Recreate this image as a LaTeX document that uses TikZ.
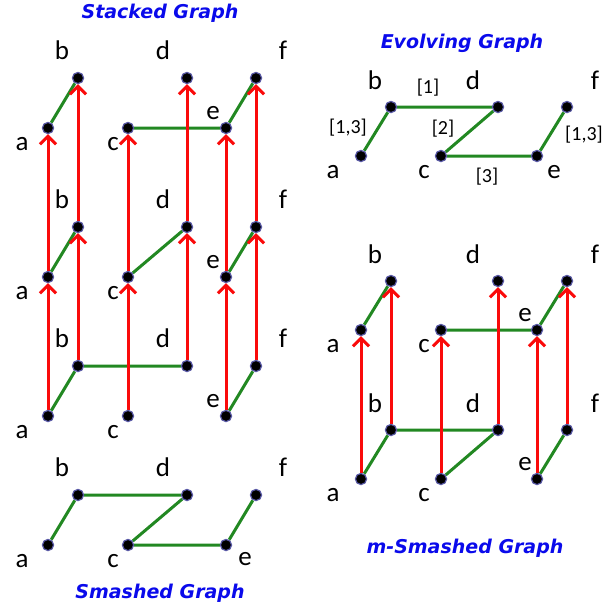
\documentclass[tikz,border=0pt]{standalone}
\usepackage{fontspec}
\newfontfamily\lblfont{Carlito}
\newfontfamily\ttlfont{DejaVu Sans}
\usetikzlibrary{arrows.meta,backgrounds}
\definecolor{edgegreen}{RGB}{34,136,34}
\definecolor{arrowred}{RGB}{250,10,10}
\definecolor{titleblue}{RGB}{10,10,235}

\begin{document}
\begin{tikzpicture}[
    x=0.5pt, y=-0.5pt,
    dot/.style={circle,fill=black,draw=blue!30!gray,line width=0.6pt,inner sep=0pt,minimum size=5.6pt},
    lbl/.style={font=\lblfont\fontsize{13.5}{14}\selectfont,inner sep=0pt},
    tlbl/.style={font=\lblfont\fontsize{10}{10}\selectfont,inner sep=0pt},
    title/.style={font=\ttlfont\bfseries\itshape\fontsize{9.5}{10}\selectfont,text=titleblue,inner sep=0pt},
    gedge/.style={draw=edgegreen,line width=1.5pt},
    tarrow/.style={draw=arrowred,line width=1.5pt,-{Straight Barb[length=4pt,width=8pt]}}
]
\useasboundingbox (0,0) rectangle (616,611);

% Titles
\node[title] (tstack) at (160,13) {Stacked Graph};
\node[title] (tsmash) at (160,593) {Smashed Graph};
\node[title] (tevol) at (462,43) {Evolving Graph};
\node[title] (tmsmash) at (465,548) {m-Smashed Graph};

% Stacked graph layers
\foreach \L/\Y in {3/78,2/227,1/366} {
  \foreach \n/\x/\dy/\lx/\ly in {a/48/50/-26/16, b/78/0/-16/-28, c/128/50/-15/16,
                                 d/187/0/-24/-28, e/226/50/-13/-15, f/256/0/27/-28} {
    \node[dot] (\n\L) at (\x,\Y+\dy) {};
    \node[lbl] (l\n\L) at (\x+\lx,\Y+\dy+\ly) {\n};
  }
}

% Smashed graph
\foreach \n/\x/\dy/\lx/\ly in {a/48/50/-26/16, b/78/0/-16/-28, c/128/50/-15/16,
                               d/187/0/-24/-28, e/226/50/19/14, f/256/0/27/-28} {
  \node[dot] (\n s) at (\x,495+\dy) {};
  \node[lbl] (l\n s) at (\x+\lx,495+\dy+\ly) {\n};
}

% Evolving graph
\foreach \n/\x/\dy/\lx/\ly in {a/361/49/-28/16, b/391/0/-16/-27, c/441/49/-17/16,
                               d/498/0/-25/-27, e/537/49/17/16, f/567/0/28/-27} {
  \node[dot] (v\n) at (\x,107+\dy) {};
  \node[lbl] (lv\n) at (\x+\lx,107+\dy+\ly) {\n};
}
\node[tlbl] (tab) at (348,128) {[1,3]};
\node[tlbl] (tbd) at (428,88) {[1]};
\node[tlbl] (tcd) at (443,129) {[2]};
\node[tlbl] (tce) at (487,177) {[3]};
\node[tlbl] (tef) at (584,135) {[1,3]};

% m-Smashed graph
\foreach \L/\Y in {2/281,1/430} {
  \foreach \n/\x/\dy/\lx/\ly in {a/361/49/-28/16, b/391/0/-16/-27, c/441/49/-17/16,
                                 d/498/0/-25/-27, e/537/49/-12/-15, f/567/0/28/-27} {
    \node[dot] (m\n\L) at (\x,\Y+\dy) {};
    \node[lbl] (lm\n\L) at (\x+\lx,\Y+\dy+\ly) {\n};
  }
}

\begin{pgfonlayer}{background}
% Green edges
\draw[gedge] (a3) -- (b3) (c3) -- (e3) (e3) -- (f3);
\draw[gedge] (a2) -- (b2) (c2) -- (d2) (e2) -- (f2);
\draw[gedge] (a1) -- (b1) (b1) -- (d1) (e1) -- (f1);
\draw[gedge] (as) -- (bs) -- (ds) -- (cs) -- (es) -- (fs);
\draw[gedge] (va) -- (vb) -- (vd) -- (vc) -- (ve) -- (vf);
\draw[gedge] (ma2) -- (mb2) (mc2) -- (me2) (me2) -- (mf2);
\draw[gedge] (ma1) -- (mb1) -- (md1) -- (mc1) (me1) -- (mf1);
% Red time arrows
\foreach \n in {a,b,c,d,e,f} {
  \draw[tarrow] (\n1) -- (\n2);
  \draw[tarrow] (\n2) -- (\n3);
  \draw[tarrow] (m\n1) -- (m\n2);
}
\end{pgfonlayer}

\end{tikzpicture}
\end{document}
